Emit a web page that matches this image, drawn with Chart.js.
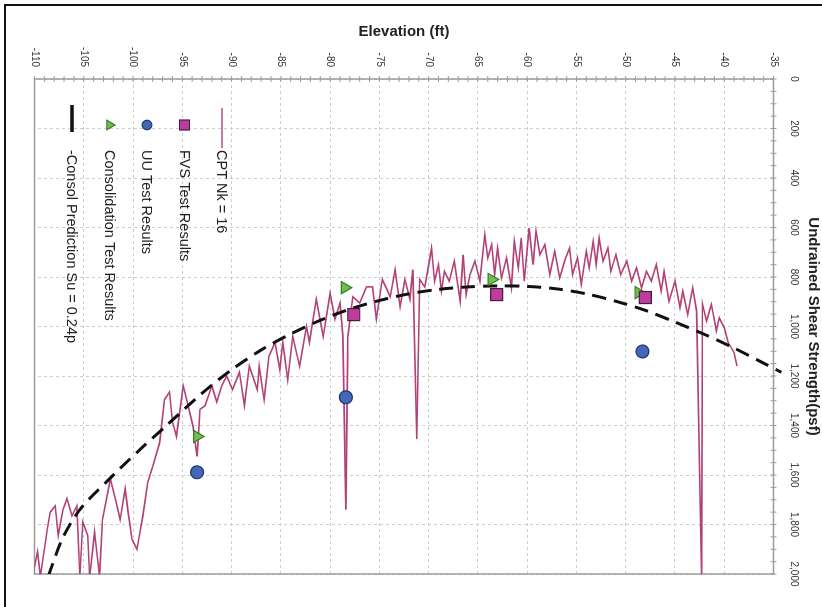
<!DOCTYPE html>
<html>
<head>
<meta charset="utf-8">
<script src="https://cdn.jsdelivr.net/npm/chart.js@4.4.1/dist/chart.umd.min.js"></script>
<style>
  html, body { margin: 0; padding: 0; background: #fff; overflow: hidden; width: 822px; height: 607px; }
  #frame { position: absolute; left: 4px; top: 4px; width: 840px; height: 640px; border-left: 2px solid #111; border-top: 2px solid #111; }
  #rot { position: absolute; left: 0; top: 0; width: 607px; height: 822px; transform-origin: 0 0; transform: translate(822px, 0) rotate(90deg); }
</style>
</head>
<body>
<div id="frame"></div>
<div id="rot"><canvas id="chart" width="607" height="822"></canvas></div>
<script>
// elevation (ft) / undrained shear strength (psf)
const cptElev = [
  -110.5, -110.2, -109.7, -109.4, -108.7, -108.4, -107.9, -107.6, -107.1, -106.7,
  -106.2, -105.7, -105.4, -105.1, -104.6, -104.4, -103.9, -103.4, -103.1, -102.3,
  -101.8, -101.3, -100.8, -100.5, -100.1, -99.6, -99.3, -99.0, -98.5,
  -98.0, -97.3, -96.8, -96.3, -96.0, -95.6, -94.9, -94.5, -93.9, -93.5,
  -93.2, -92.7, -92.0, -91.5, -91.0, -90.5, -89.9, -89.2, -88.7, -88.2,
  -87.4, -87.2, -86.7, -86.2, -85.6, -85.1, -84.8, -84.3, -83.8, -83.1,
  -82.4, -82.1, -81.4, -80.7, -80.0, -79.5, -79.0, -78.7, -78.4, -78.2,
  -77.7, -77.0, -76.3,
  -75.7, -75.3, -74.7, -73.9, -73.4, -72.9, -72.4, -71.9, -71.6, -71.2,
  -70.9, -70.4, -69.9,
  -69.7, -69.4, -69.0, -68.7, -68.4, -67.9, -67.4, -66.8, -66.5, -66.2,
  -65.8, -65.3, -64.8, -64.3, -64.0, -63.6, -63.3, -63.0, -62.6, -62.1,
  -61.6, -61.3, -60.9, -60.6, -60.3, -59.8, -59.4, -59.1, -58.7, -58.2,
  -57.7, -57.2, -56.7, -56.2, -55.7, -55.4, -54.9, -54.5, -54.0, -53.7,
  -53.3, -53.0, -52.7, -52.3, -51.8, -51.5, -51.0, -50.5, -49.9, -49.4,
  -48.9, -48.4, -47.9, -47.4, -46.9, -46.4, -46.1, -45.6, -45.0, -44.5,
  -44.2, -43.7, -43.2, -42.8, -42.3, -42.2, -41.8, -41.3, -40.8, -40.5,
  -40.0, -39.6, -39.0, -38.7
];
const cptSu = [
  1880, 2010, 1910, 2010, 1820, 1750, 1725, 1845, 1740, 1695,
  1765, 1725, 2010, 1790, 1845, 2010, 1830, 2010, 1780, 1615,
  1695, 1780, 1655, 1750, 1860, 1900, 1830, 1765, 1630,
  1565, 1470, 1295, 1265, 1385, 1445, 1240, 1305, 1405, 1525,
  1335, 1320, 1240, 1305, 1240, 1200, 1255, 1185, 1320, 1160,
  1255, 1160, 1295, 1120, 1065, 1175, 1065, 1215, 1040, 1160,
  1000, 1065, 890, 1040, 865, 970, 905, 1040, 1740, 1040,
  880, 905, 840,
  840, 970, 810, 880, 770, 920, 810, 890, 770, 1455,
  810, 840, 730,
  683, 817, 750, 857, 777, 817, 736, 898, 710, 871,
  790, 736, 817, 629, 723, 669, 790, 683, 803, 723,
  844, 656, 763, 642, 817, 602, 750, 615, 710, 669,
  790, 696, 803, 736, 683, 790, 723, 830, 696, 763,
  656, 750, 642, 736, 683, 777, 710, 790, 736, 817,
  763, 844, 777, 817, 750, 857, 777, 898, 817, 924,
  857, 951, 844, 938, 2020, 911, 978, 911, 1018, 965,
  1005, 1065, 1105, 1160
];

const fvsElev = [-77.6, -63.1, -48.0];
const fvsSu = [952, 871, 883];

const uuElev = [-93.5, -78.4, -48.3];
const uuSu = [1589, 1286, 1101];

const consElev = [-93.5, -78.5, -63.6, -48.7];
const consSu = [1444, 843, 810, 863];

const predElev = [-108.6, -107.2, -105.4, -102.5, -99.5, -96.6, -93.0, -90.0, -87.0, -84.0,
  -81.0, -78.0, -75.0, -72.0, -69.0, -66.0, -63.0, -60.0, -57.0, -54.0,
  -51.0, -48.0, -45.0, -42.0, -39.0, -36.5, -34.2];
const predSu = [2010, 1860, 1740, 1620, 1505, 1400, 1270, 1175, 1095, 1030,
  975, 930, 895, 868, 850, 840, 836, 838, 848, 868,
  898, 935, 982, 1032, 1087, 1138, 1185];

const seriesNames = ['CPT Nk = 16', 'FVS Test Results', 'UU Test Results',
  'Consolidation Test Results', '-Consol Prediction Su = 0.24p'];

const toPoints = (elev, su) => elev.map((e, i) => ({ x: su[i], y: e }));

Chart.defaults.font.family = "'Liberation Sans', Arial, sans-serif";
Chart.defaults.color = '#333';

const canvas = document.getElementById('chart');
const ctx = canvas.getContext('2d');

const gridOpts = { color: '#cdcdcd', lineWidth: 1, drawTicks: false };

new Chart(ctx, {
  type: 'scatter',
  data: {
    datasets: [
      {
        label: seriesNames[0],
        data: toPoints(cptElev, cptSu),
        showLine: true,
        borderColor: 'rgba(168, 44, 104, 0.9)',
        borderWidth: 1.6,
        pointRadius: 0,
        tension: 0,
        order: 3
      },
      {
        label: seriesNames[1],
        data: toPoints(fvsElev, fvsSu),
        pointStyle: 'rect',
        pointRadius: 8.5,
        backgroundColor: '#bd3c9c',
        borderColor: '#4d1a45',
        borderWidth: 1.2,
        order: 0
      },
      {
        label: seriesNames[2],
        data: toPoints(uuElev, uuSu),
        pointStyle: 'circle',
        pointRadius: 6.5,
        backgroundColor: '#4466b6',
        borderColor: '#1f3677',
        borderWidth: 1.2,
        order: 0
      },
      {
        label: seriesNames[3],
        data: toPoints(consElev, consSu),
        pointStyle: 'triangle',
        pointRadius: 7,
        backgroundColor: '#6fbf4e',
        borderColor: '#3a7a28',
        borderWidth: 1.2,
        order: 0
      },
      {
        label: seriesNames[4],
        data: toPoints(predElev, predSu),
        showLine: true,
        borderColor: '#111',
        borderWidth: 3,
        borderDash: [14, 8],
        pointRadius: 0,
        tension: 0.3,
        clip: { left: 0, top: 12, right: 0, bottom: 0 },
        order: 1
      }
    ]
  },
  options: {
    responsive: false,
    animation: false,
    events: [],
    layout: { padding: { left: 0, top: 0, right: 33, bottom: 34.5 } },
    scales: {
      x: {
        type: 'linear',
        position: 'top',
        min: 0,
        max: 2000,
        ticks: { stepSize: 200, padding: 14, font: { size: 10 }, color: '#333' },
        grid: gridOpts,
        border: { display: false, dash: [3, 3] },
        title: {
          display: true,
          text: 'Undrained Shear Strength(psf)',
          font: { size: 15, weight: 'bold' },
          color: '#222',
          padding: { top: 0, bottom: 0 }
        },
        afterFit: (scale) => { scale.height = 48.5; }
      },
      y: {
        type: 'linear',
        position: 'left',
        min: -110,
        max: -35,
        ticks: { stepSize: 5, padding: 12, font: { size: 10 }, color: '#333' },
        grid: gridOpts,
        border: { display: false, dash: [3, 3] },
        title: {
          display: true,
          text: 'Elevation (ft)',
          font: { size: 15, weight: 'bold' },
          color: '#222',
          padding: { top: 23, bottom: 0 }
        },
        afterFit: (scale) => { scale.width = 79; }
      }
    },
    plugins: {
      legend: { display: false },
      tooltip: { enabled: false }
    }
  },
  plugins: [{
    id: 'plotBox',
    beforeDatasetsDraw: (chart) => {
      const c = chart.ctx;
      const a = chart.chartArea;
      const sx = chart.scales.x;
      const sy = chart.scales.y;
      c.save();
      c.strokeStyle = '#9c9c9c';
      c.lineWidth = 1.5;
      c.strokeRect(a.left, a.top, a.right - a.left, a.bottom - a.top);
      c.lineWidth = 1;
      c.beginPath();
      for (let v = -110; v <= -35; v += 1) {
        const p = sy.getPixelForValue(v);
        c.moveTo(a.left - 3, p);
        c.lineTo(a.left + 3, p);
      }
      for (let v = 0; v <= 2000; v += 50) {
        const p = sx.getPixelForValue(v);
        c.moveTo(p, a.top - 3);
        c.lineTo(p, a.top + 3);
      }
      c.stroke();
      c.restore();
    }
  }, {
    id: 'insideLegend',
    afterDraw: (chart) => {
      const c = chart.ctx;
      const a = chart.chartArea;
      const sets = chart.data.datasets;
      const symX = a.left + 46;
      const textX = a.left + 71;
      c.save();
      c.font = "14.5px 'Liberation Sans', Arial, sans-serif";
      c.fillStyle = '#222';
      c.textBaseline = 'middle';
      c.textAlign = 'left';
      sets.forEach((ds, i) => {
        const y = a.bottom - 187.5 + i * 37.5;
        c.save();
        if (i === 0) {
          c.strokeStyle = 'rgba(190, 110, 150, 0.9)';
          c.lineWidth = 2;
          c.beginPath();
          c.moveTo(a.left + 29, y);
          c.lineTo(a.left + 69, y);
          c.stroke();
        } else if (i === 4) {
          c.strokeStyle = ds.borderColor;
          c.lineWidth = 3.5;
          c.beginPath();
          c.moveTo(a.left + 26, y);
          c.lineTo(a.left + 53, y);
          c.stroke();
        } else {
          c.fillStyle = ds.backgroundColor;
          c.strokeStyle = ds.borderColor;
          c.lineWidth = 1.2;
          c.beginPath();
          if (ds.pointStyle === 'rect') {
            c.rect(symX - 5, y - 5, 10, 10);
          } else if (ds.pointStyle === 'circle') {
            c.arc(symX, y, 4.8, 0, Math.PI * 2);
          } else {
            const r = 5.5;
            c.moveTo(symX, y - r);
            c.lineTo(symX + r * 0.866, y + r * 0.5);
            c.lineTo(symX - r * 0.866, y + r * 0.5);
            c.closePath();
          }
          c.fill();
          c.stroke();
        }
        c.restore();
        c.fillText(seriesNames[i], textX, y + 0.5);
      });
      c.restore();
    }
  }]
});
</script>
</body>
</html>
